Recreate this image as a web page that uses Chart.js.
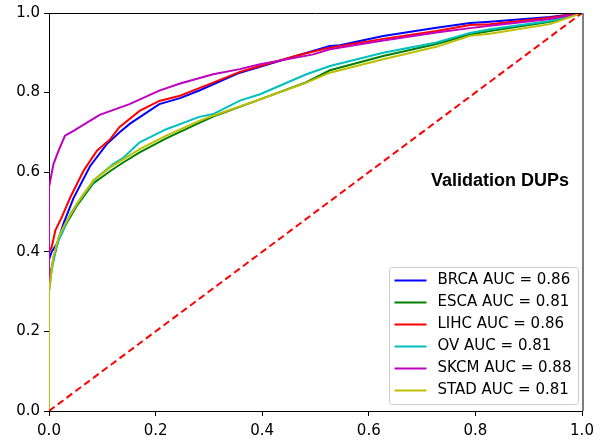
<!DOCTYPE html>
<html>
<head>
<meta charset="utf-8">
<script src="https://cdn.jsdelivr.net/npm/chart.js@4"></script>
<style>
  body { margin: 0; background: #fff; }
  #wrap { width: 614px; height: 444px; }
</style>
</head>
<body>
<div id="wrap"><canvas id="roc" width="614" height="444"></canvas></div>
<script>
// ROC curves, validation set (DUPs)
const labels = ['BRCA AUC = 0.86', 'ESCA AUC = 0.81', 'LIHC AUC = 0.86', 'OV AUC = 0.81', 'SKCM AUC = 0.88', 'STAD AUC = 0.81'];
const colors = ['#0000ff', '#008000', '#ff0000', '#00bfbf', '#bf00bf', '#bfbf00'];
const axisTicks = [0, 0.2, 0.4, 0.6, 0.8, 1.0];

// BRCA
const brcaFpr = [0, 0, 0.005, 0.015, 0.027, 0.046, 0.077, 0.108, 0.132, 0.152, 0.207, 0.246, 0.283, 0.358, 0.396, 0.471, 0.527, 0.546, 0.627, 0.727, 0.79, 0.827, 0.94, 1];
const brcaTpr = [0, 0.38, 0.40, 0.42, 0.47, 0.535, 0.615, 0.67, 0.70, 0.722, 0.771, 0.786, 0.806, 0.85, 0.865, 0.895, 0.917, 0.919, 0.942, 0.963, 0.975, 0.978, 0.99, 1];
// ESCA
const escaFpr = [0, 0, 0.008, 0.018, 0.03, 0.052, 0.083, 0.115, 0.14, 0.17, 0.22, 0.282, 0.308, 0.396, 0.483, 0.527, 0.627, 0.727, 0.79, 0.827, 0.94, 1];
const escaTpr = [0, 0.33, 0.38, 0.43, 0.465, 0.515, 0.572, 0.603, 0.625, 0.65, 0.685, 0.724, 0.74, 0.783, 0.826, 0.856, 0.892, 0.922, 0.946, 0.955, 0.978, 1];
// LIHC
const lihcFpr = [0, 0, 0.005, 0.012, 0.024, 0.04, 0.065, 0.09, 0.115, 0.132, 0.17, 0.207, 0.246, 0.27, 0.308, 0.358, 0.396, 0.471, 0.527, 0.627, 0.727, 0.79, 0.827, 0.94, 1];
const lihcTpr = [0, 0.40, 0.412, 0.454, 0.487, 0.537, 0.604, 0.654, 0.683, 0.713, 0.754, 0.779, 0.792, 0.805, 0.825, 0.852, 0.867, 0.895, 0.913, 0.935, 0.955, 0.97, 0.972, 0.988, 1];
// OV
const ovFpr = [0, 0, 0.005, 0.015, 0.027, 0.04, 0.065, 0.09, 0.121, 0.14, 0.17, 0.22, 0.282, 0.308, 0.358, 0.396, 0.483, 0.527, 0.627, 0.727, 0.79, 0.827, 0.94, 1];
const ovTpr = [0, 0.30, 0.353, 0.42, 0.454, 0.495, 0.545, 0.587, 0.621, 0.637, 0.675, 0.708, 0.739, 0.746, 0.78, 0.796, 0.846, 0.867, 0.9, 0.926, 0.95, 0.959, 0.98, 1];
// SKCM
const skcmFpr = [0, 0, 0.0085, 0.018, 0.03, 0.046, 0.095, 0.151, 0.207, 0.246, 0.308, 0.358, 0.396, 0.496, 0.527, 0.627, 0.727, 0.79, 0.827, 0.94, 1];
const skcmTpr = [0, 0.562, 0.621, 0.654, 0.692, 0.704, 0.744, 0.771, 0.805, 0.823, 0.846, 0.859, 0.871, 0.896, 0.909, 0.931, 0.951, 0.962, 0.968, 0.985, 1];
// STAD
const stadFpr = [0, 0, 0.008, 0.018, 0.03, 0.052, 0.083, 0.115, 0.14, 0.17, 0.22, 0.282, 0.308, 0.396, 0.483, 0.527, 0.627, 0.727, 0.79, 0.827, 0.94, 1];
const stadTpr = [0, 0.30, 0.387, 0.437, 0.47, 0.52, 0.579, 0.612, 0.633, 0.658, 0.692, 0.729, 0.742, 0.783, 0.825, 0.85, 0.884, 0.915, 0.943, 0.948, 0.972, 1];
// chance line
const chanceX = [0, 1];
const chanceY = [0, 1];

const fprs = [brcaFpr, escaFpr, lihcFpr, ovFpr, skcmFpr, stadFpr];
const tprs = [brcaTpr, escaTpr, lihcTpr, ovTpr, skcmTpr, stadTpr];

function toPoints(xs, ys) {
  return xs.map((x, i) => ({ x: x, y: ys[i] }));
}

const datasets = [];
for (let i = 0; i < labels.length; i++) {
  datasets.push({
    label: labels[i],
    data: toPoints(fprs[i], tprs[i]),
    borderColor: colors[i],
    borderWidth: 2,
    pointRadius: 0,
    tension: 0,
    // later series drawn on top, like matplotlib
    order: labels.length + 1 - i
  });
}
datasets.push({
  label: '',
  data: toPoints(chanceX, chanceY),
  borderColor: '#ff0000',
  borderWidth: 2,
  borderDash: [7, 4],
  pointRadius: 0,
  order: 0
});

// spines, annotation and legend box
const extras = {
  id: 'extras',
  afterDraw(chart) {
    const ctx = chart.ctx;
    const a = chart.chartArea;
    const xs = chart.scales.x;
    const ys = chart.scales.y;
    ctx.save();
    // top spine
    ctx.strokeStyle = '#000';
    ctx.lineWidth = 1;
    ctx.beginPath();
    ctx.moveTo(a.left, a.top + 0.5);
    ctx.lineTo(a.right, a.top + 0.5);
    ctx.stroke();
    // right spine (grey)
    ctx.strokeStyle = '#7f7f7f';
    ctx.lineWidth = 2;
    ctx.beginPath();
    ctx.moveTo(a.right + 1, a.top);
    ctx.lineTo(a.right + 1, a.bottom);
    ctx.stroke();

    // text
    ctx.fillStyle = '#000';
    ctx.font = 'bold 18px "Liberation Sans", Arial, sans-serif';
    ctx.textAlign = 'center';
    ctx.textBaseline = 'alphabetic';
    ctx.fillText('Validation DUPs', xs.getPixelForValue(0.846), ys.getPixelForValue(0.565));

    // legend
    const boxL = 389.5, boxT = 267.5, boxW = 189, boxH = 137, rowH = 22;
    ctx.fillStyle = 'rgba(255,255,255,0.8)';
    ctx.strokeStyle = '#cccccc';
    ctx.lineWidth = 1;
    ctx.beginPath();
    ctx.roundRect(boxL, boxT, boxW, boxH, 3);
    ctx.fill();
    ctx.stroke();
    ctx.font = '15px "DejaVu Sans", sans-serif';
    ctx.textAlign = 'left';
    ctx.textBaseline = 'middle';
    for (let i = 0; i < labels.length; i++) {
      const y = boxT + 13 + i * rowH;
      ctx.strokeStyle = colors[i];
      ctx.lineWidth = 2;
      ctx.beginPath();
      ctx.moveTo(boxL + 5, y);
      ctx.lineTo(boxL + 37, y);
      ctx.stroke();
      ctx.fillStyle = '#000';
      ctx.fillText(labels[i], boxL + 48, y);
    }
    ctx.restore();
  }
};

const tickFont = { family: '"DejaVu Sans", sans-serif', size: 15 };

new Chart(document.getElementById('roc'), {
  type: 'line',
  data: { datasets: datasets },
  options: {
    responsive: false,
    animation: false,
    layout: { padding: { top: 12, right: 32, left: 0, bottom: 0 } },
    plugins: {
      legend: { display: false },
      tooltip: { enabled: false }
    },
    scales: {
      x: {
        type: 'linear',
        min: 0,
        max: 1,
        afterBuildTicks: s => { s.ticks = axisTicks.map(v => ({ value: v })); },
        afterFit: s => { s.height = 33; },
        ticks: { color: '#000', font: tickFont, padding: 6, maxRotation: 0, callback: v => v.toFixed(1) },
        grid: { drawOnChartArea: false, drawTicks: true, tickLength: 5, color: '#000' },
        border: { display: true, color: '#000', width: 1 }
      },
      y: {
        type: 'linear',
        min: 0,
        max: 1,
        afterBuildTicks: s => { s.ticks = axisTicks.map(v => ({ value: v })); },
        afterFit: s => { s.width = 49; },
        ticks: { color: '#000', font: tickFont, padding: 4, callback: v => v.toFixed(1) },
        grid: { drawOnChartArea: false, drawTicks: true, tickLength: 5, color: '#000' },
        border: { display: true, color: '#000', width: 1 }
      }
    }
  },
  plugins: [extras]
});
</script>
</body>
</html>
